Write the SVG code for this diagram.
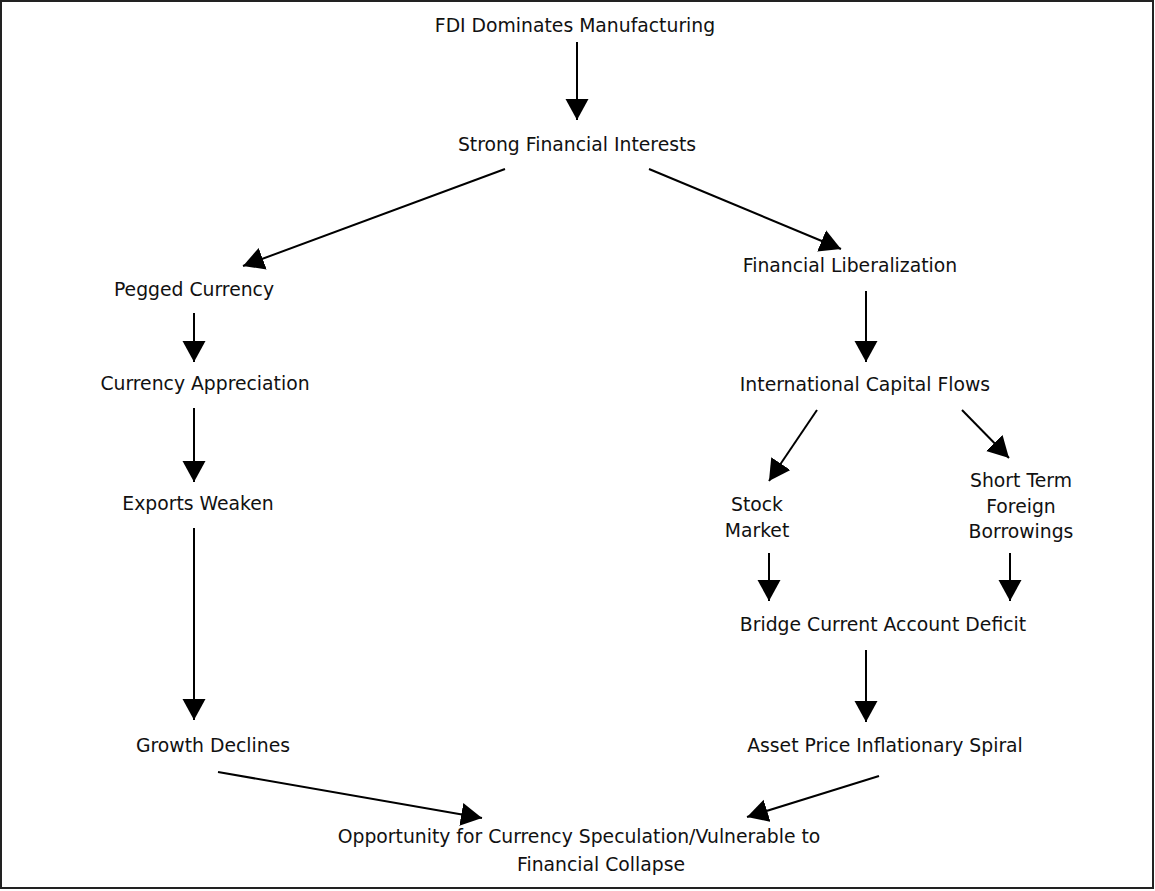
<svg xmlns="http://www.w3.org/2000/svg" width="1155" height="891" viewBox="0 0 1155 891">
<style>
.t{font-family:"DejaVu Sans","Verdana",sans-serif;font-size:18.8px;fill:#111;text-anchor:middle}
.c line{stroke:#000;stroke-width:2;marker-end:url(#ah)}
</style>
<defs>
<marker id="ah" markerUnits="userSpaceOnUse" markerWidth="22" markerHeight="24" refX="21" refY="11.5" orient="auto" viewBox="0 0 22 24">
<path d="M0,0 L21,11.5 L0,23 z" fill="#000"/>
</marker>
</defs>
<rect x="1" y="1" width="1152" height="887" fill="#fff" stroke="#222" stroke-width="2"/>
<g class="c" id="connectors">
<line x1="577" y1="42" x2="577" y2="120"/>
<line x1="505" y1="169" x2="243" y2="266"/>
<line x1="649" y1="169" x2="841" y2="249"/>
<line x1="194" y1="313" x2="194" y2="362"/>
<line x1="194" y1="408" x2="194" y2="482"/>
<line x1="194" y1="528" x2="194" y2="720"/>
<line x1="866" y1="291" x2="866" y2="362"/>
<line x1="817" y1="410" x2="769" y2="481"/>
<line x1="962" y1="410" x2="1009" y2="458"/>
<line x1="769" y1="553" x2="769" y2="601"/>
<line x1="1010" y1="553" x2="1010" y2="601"/>
<line x1="866" y1="650" x2="866" y2="722"/>
<line x1="218" y1="772" x2="482" y2="818"/>
<line x1="879" y1="776" x2="747" y2="817"/>
</g>
<g id="n1"><text class="t" x="575" y="32">FDI Dominates Manufacturing</text></g>
<g id="n2"><text class="t" x="577" y="151">Strong Financial Interests</text></g>
<g id="n3"><text class="t" x="194" y="296">Pegged Currency</text></g>
<g id="n4"><text class="t" x="850" y="272">Financial Liberalization</text></g>
<g id="n5"><text class="t" x="205" y="390">Currency Appreciation</text></g>
<g id="n6"><text class="t" x="865" y="391">International Capital Flows</text></g>
<g id="n7"><text class="t" x="198" y="510">Exports Weaken</text></g>
<g id="n8"><text class="t" x="757" y="511">Stock</text><text class="t" x="757" y="537">Market</text></g>
<g id="n9"><text class="t" x="1021" y="487">Short Term</text><text class="t" x="1021" y="513">Foreign</text><text class="t" x="1021" y="538">Borrowings</text></g>
<g id="n10"><text class="t" x="883" y="631">Bridge Current Account Deficit</text></g>
<g id="n11"><text class="t" x="213" y="752">Growth Declines</text></g>
<g id="n12"><text class="t" x="885" y="752">Asset Price Inflationary Spiral</text></g>
<g id="n13"><text class="t" x="579" y="843">Opportunity for Currency Speculation/Vulnerable to</text><text class="t" x="601" y="871">Financial Collapse</text></g>
</svg>
